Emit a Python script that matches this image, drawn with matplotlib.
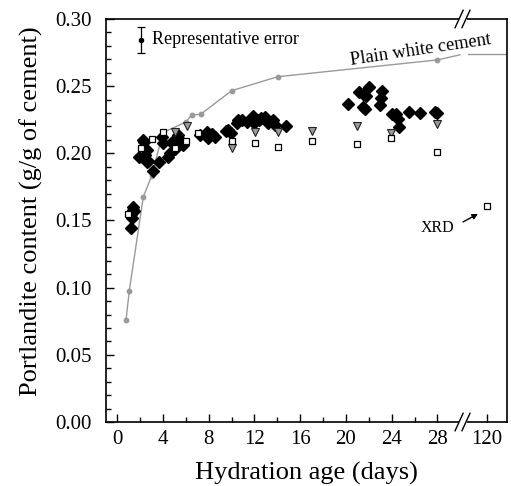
import numpy as np
import matplotlib
matplotlib.use("Agg")
import matplotlib.pyplot as plt
from matplotlib.scale import FuncScale

plt.rcParams['font.family'] = ['Liberation Serif', 'DejaVu Serif']
plt.rcParams['mathtext.fontset'] = 'stix'

# ---------------- data ----------------
dia_x = [1.17, 1.26, 1.20, 1.40, 1.45, 1.35,
         1.93, 2.34, 2.57, 2.63, 2.45, 2.27, 2.71, 3.10, 3.67, 3.97, 3.90, 4.46, 4.61,
         4.76, 4.90, 5.05, 5.34, 5.50, 5.77,
         7.24, 7.87, 7.96, 8.30, 8.55,
         9.50, 9.71, 9.92, 10.44, 10.60, 10.88, 11.32, 11.76, 11.90, 11.95, 12.43, 12.60,
         12.92, 13.21, 13.65, 13.80, 14.76,
         20.20, 21.17, 21.47, 21.76, 22.05, 21.52, 21.67, 23.13, 23.05, 22.98,
         24.00, 24.40, 24.59, 24.67, 25.55, 26.48, 27.80, 27.95]
dia_y = [0.1447, 0.1516, 0.1550, 0.1603, 0.1570, 0.1580,
         0.1970, 0.2087, 0.2025, 0.1938, 0.1990, 0.2100, 0.1940, 0.1869, 0.1938, 0.2080, 0.2120, 0.1975, 0.2000,
         0.2087, 0.2070, 0.2030, 0.2137, 0.2100, 0.2062,
         0.2137, 0.2160, 0.2112, 0.2145, 0.2124,
         0.2169, 0.2174, 0.2149, 0.2223, 0.2245, 0.2248, 0.2236, 0.2261, 0.2275, 0.2223, 0.2248, 0.2260,
         0.2273, 0.2223, 0.2248, 0.2211, 0.2203,
         0.2365, 0.2459, 0.2442, 0.2427, 0.2496, 0.2347, 0.2328, 0.2466, 0.2410, 0.2360,
         0.2293, 0.2290, 0.2253, 0.2194, 0.2310, 0.2298, 0.2310, 0.2298]

sq_x = [0.96, 2.05, 3.04, 4.03, 5.05, 6.01, 7.09, 10.0, 12.05, 14.03, 17.0, 21.0, 23.92, 27.94, 120]
sq_y = [0.1550, 0.2040, 0.2110, 0.2157, 0.2037, 0.2092, 0.2154, 0.2092, 0.2075, 0.2045, 0.2094,
        0.2067, 0.2112, 0.2012, 0.1610]

tri_x = [5.05, 6.07, 10.0, 12.05, 14.09, 17.0, 21.0, 23.92, 27.94]
tri_y = [0.2160, 0.2203, 0.2037, 0.2161, 0.2161, 0.2168, 0.2203, 0.2149, 0.2218]

pwc_x = [0.76, 1.05, 2.27, 3.0, 4.0, 6.0, 6.5, 7.3, 10.0, 14.03, 28.0]
pwc_y = [0.0757, 0.0977, 0.1675, 0.1831, 0.2155, 0.2232, 0.2285, 0.2291, 0.2466, 0.2570, 0.2695]
pwc_ext_x = [28.0, 70.0]
pwc_ext_y = [0.2695, 0.2733]
pwc_tail_x = [85.0, 170.0]
pwc_tail_y = [0.2740, 0.2740]

err_x, err_y, err_e = [2.05], [0.2844], [0.0097]

xticks = [0, 4, 8, 12, 16, 20, 24, 28, 120]
xminor = [2, 6, 10, 14, 18, 22, 26]

# ---------------- broken-axis scale ----------------
K = 4.32 / 92.0
def fwd(x):
    x = np.asarray(x, dtype=float)
    return np.where(x <= 28, x, 28 + (x - 28) * K)
def inv(u):
    u = np.asarray(u, dtype=float)
    return np.where(u <= 28, u, 28 + (u - 28) / K)

fig = plt.figure(figsize=(5.11, 4.86), dpi=100)
ax = fig.add_axes([0.2074, 0.1317, 0.7848, 0.8293])
ax.set_xscale(FuncScale(ax.xaxis, (fwd, inv)))
ax.set_xlim(inv(-0.99), inv(34.09))
ax.set_ylim(0, 0.30)

gray = '#9a9a9a'
ax.plot(pwc_x, pwc_y, '-', color=gray, lw=1.0, marker='o', ms=3.2, mec=gray, mfc=gray, zorder=2)
ax.plot(pwc_ext_x, pwc_ext_y, '-', color=gray, lw=1.0, zorder=2)
ax.plot(pwc_tail_x, pwc_tail_y, '-', color=gray, lw=1.0, zorder=2, clip_on=True)

ax.plot(dia_x, dia_y, 'D', color='black', ms=6.3, mec='black', zorder=3, ls='none')
ax.plot(tri_x, tri_y, 'v', ms=6.0, mfc='#9a9a9a', mec='#222222', mew=0.8, ls='none', zorder=4)
ax.plot(sq_x, sq_y, 's', ms=4.2, mfc='white', mec='black', mew=0.9, ls='none', zorder=5)

ax.errorbar(err_x, err_y, yerr=err_e, fmt='o', color='black', ms=3, capsize=3, elinewidth=0.9,
            capthick=0.9, zorder=5)

ax.text(3.0, 0.2844, 'Representative error', fontsize=13, va='center', ha='left')
ax.text(26.5, 0.2766, 'Plain white cement', fontsize=13.3, va='center', ha='center', rotation=8.5)
ax.text(28.3, 0.1444, 'XRD', fontsize=11.5, va='center', ha='center')
ax.annotate('', xy=(inv(31.55), 0.1549), xytext=(inv(30.24), 0.1489),
            arrowprops=dict(arrowstyle='-|>', color='black', lw=1.0, mutation_scale=8,
                            shrinkA=0, shrinkB=0))

ax.set_xticks(xticks)
ax.set_xticklabels([str(t) for t in xticks])
ax.set_xticks(xminor, minor=True)
ax.set_yticks(np.arange(0, 0.301, 0.05))
ax.set_yticklabels(['%.2f' % v for v in np.arange(0, 0.301, 0.05)])
ax.set_yticks(np.arange(0, 0.301, 0.01), minor=True)
ax.tick_params(which='both', direction='in', top=False, right=False, labelsize=15, width=1.0)
ax.tick_params(which='major', length=6)
ax.tick_params(which='minor', length=3.5)
ax.tick_params(axis='y', pad=10)
ax.tick_params(axis='x', pad=6)
for s in ax.spines.values():
    s.set_linewidth(1.2)

ax.set_xlabel('Hydration age (days)', fontsize=19, labelpad=9)
ax.set_ylabel('Portlandite content (g/g of cement)', fontsize=19)
ax.yaxis.set_label_coords(-0.158, 0.522)

# break marks
for yb in (0.0, 0.30):
    ax.plot([inv(29.85), inv(30.55)], [yb, yb], color='white', lw=3,
            clip_on=False, zorder=6, solid_capstyle='butt')
    for dx in (-0.3, 0.3):
        ax.plot([inv(30.2 + dx - 0.35), inv(30.2 + dx + 0.35)], [yb - 0.0065, yb + 0.0065],
                color='black', lw=1.0, clip_on=False, zorder=7)

fig.savefig('out.png', dpi=100)
